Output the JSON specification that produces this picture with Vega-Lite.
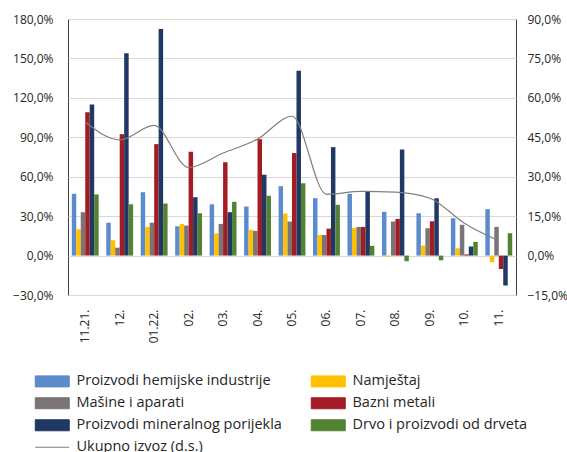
{
  "$schema": "https://vega.github.io/schema/vega-lite/v6.json",
  "width": 448,
  "height": 276,
  "autosize": {"type": "pad"},
  "padding": {"left": 12, "top": 13, "right": 5, "bottom": 0},
  "config": {
    "view": {"stroke": "#404040", "strokeWidth": 1},
    "font": "Open Sans",
    "axis": {"labelFont": "Open Sans", "labelFontSize": 12, "labelColor": "#262626"}
  },
  "datasets": {
    "bars": [
      {"month": "11.21.", "series": "Proizvodi hemijske industrije", "value": 47},
      {"month": "11.21.", "series": "Namještaj", "value": 20},
      {"month": "11.21.", "series": "Mašine i aparati", "value": 33},
      {"month": "11.21.", "series": "Bazni metali", "value": 109},
      {"month": "11.21.", "series": "Proizvodi mineralnog porijekla", "value": 115},
      {"month": "11.21.", "series": "Drvo i proizvodi od drveta", "value": 46.5},
      {"month": "12.", "series": "Proizvodi hemijske industrije", "value": 25},
      {"month": "12.", "series": "Namještaj", "value": 11.7},
      {"month": "12.", "series": "Mašine i aparati", "value": 6},
      {"month": "12.", "series": "Bazni metali", "value": 92.4},
      {"month": "12.", "series": "Proizvodi mineralnog porijekla", "value": 154},
      {"month": "12.", "series": "Drvo i proizvodi od drveta", "value": 39},
      {"month": "01.22.", "series": "Proizvodi hemijske industrije", "value": 48.2},
      {"month": "01.22.", "series": "Namještaj", "value": 21.8},
      {"month": "01.22.", "series": "Mašine i aparati", "value": 25},
      {"month": "01.22.", "series": "Bazni metali", "value": 84.8},
      {"month": "01.22.", "series": "Proizvodi mineralnog porijekla", "value": 172.4},
      {"month": "01.22.", "series": "Drvo i proizvodi od drveta", "value": 39.6},
      {"month": "02.", "series": "Proizvodi hemijske industrije", "value": 22.3},
      {"month": "02.", "series": "Namještaj", "value": 24.1},
      {"month": "02.", "series": "Mašine i aparati", "value": 22.8},
      {"month": "02.", "series": "Bazni metali", "value": 79},
      {"month": "02.", "series": "Proizvodi mineralnog porijekla", "value": 44.4},
      {"month": "02.", "series": "Drvo i proizvodi od drveta", "value": 32.2},
      {"month": "03.", "series": "Proizvodi hemijske industrije", "value": 39},
      {"month": "03.", "series": "Namještaj", "value": 16.8},
      {"month": "03.", "series": "Mašine i aparati", "value": 24.1},
      {"month": "03.", "series": "Bazni metali", "value": 71},
      {"month": "03.", "series": "Proizvodi mineralnog porijekla", "value": 33},
      {"month": "03.", "series": "Drvo i proizvodi od drveta", "value": 40.9},
      {"month": "04.", "series": "Proizvodi hemijske industrije", "value": 37.3},
      {"month": "04.", "series": "Namještaj", "value": 19.6},
      {"month": "04.", "series": "Mašine i aparati", "value": 18.8},
      {"month": "04.", "series": "Bazni metali", "value": 88.6},
      {"month": "04.", "series": "Proizvodi mineralnog porijekla", "value": 61.5},
      {"month": "04.", "series": "Drvo i proizvodi od drveta", "value": 45.5},
      {"month": "05.", "series": "Proizvodi hemijske industrije", "value": 52.8},
      {"month": "05.", "series": "Namještaj", "value": 32},
      {"month": "05.", "series": "Mašine i aparati", "value": 25.9},
      {"month": "05.", "series": "Bazni metali", "value": 78},
      {"month": "05.", "series": "Proizvodi mineralnog porijekla", "value": 140.7},
      {"month": "05.", "series": "Drvo i proizvodi od drveta", "value": 55},
      {"month": "06.", "series": "Proizvodi hemijske industrije", "value": 43.7},
      {"month": "06.", "series": "Namještaj", "value": 15.7},
      {"month": "06.", "series": "Mašine i aparati", "value": 15.7},
      {"month": "06.", "series": "Bazni metali", "value": 20.5},
      {"month": "06.", "series": "Proizvodi mineralnog porijekla", "value": 82.5},
      {"month": "06.", "series": "Drvo i proizvodi od drveta", "value": 38.6},
      {"month": "07.", "series": "Proizvodi hemijske industrije", "value": 47},
      {"month": "07.", "series": "Namještaj", "value": 21},
      {"month": "07.", "series": "Mašine i aparati", "value": 21.8},
      {"month": "07.", "series": "Bazni metali", "value": 21.8},
      {"month": "07.", "series": "Proizvodi mineralnog porijekla", "value": 49.2},
      {"month": "07.", "series": "Drvo i proizvodi od drveta", "value": 7.4},
      {"month": "08.", "series": "Proizvodi hemijske industrije", "value": 33.3},
      {"month": "08.", "series": "Namještaj", "value": -0.8},
      {"month": "08.", "series": "Mašine i aparati", "value": 25.9},
      {"month": "08.", "series": "Bazni metali", "value": 27.9},
      {"month": "08.", "series": "Proizvodi mineralnog porijekla", "value": 80.7},
      {"month": "08.", "series": "Drvo i proizvodi od drveta", "value": -4.3},
      {"month": "09.", "series": "Proizvodi hemijske industrije", "value": 32.2},
      {"month": "09.", "series": "Namještaj", "value": 7.6},
      {"month": "09.", "series": "Mašine i aparati", "value": 20.8},
      {"month": "09.", "series": "Bazni metali", "value": 26.1},
      {"month": "09.", "series": "Proizvodi mineralnog porijekla", "value": 43.6},
      {"month": "09.", "series": "Drvo i proizvodi od drveta", "value": -3.6},
      {"month": "10.", "series": "Proizvodi hemijske industrije", "value": 28.4},
      {"month": "10.", "series": "Namještaj", "value": 5.6},
      {"month": "10.", "series": "Mašine i aparati", "value": 23.4},
      {"month": "10.", "series": "Bazni metali", "value": 0.9},
      {"month": "10.", "series": "Proizvodi mineralnog porijekla", "value": 6.9},
      {"month": "10.", "series": "Drvo i proizvodi od drveta", "value": 10.4},
      {"month": "11.", "series": "Proizvodi hemijske industrije", "value": 35.3},
      {"month": "11.", "series": "Namještaj", "value": -5.1},
      {"month": "11.", "series": "Mašine i aparati", "value": 21.8},
      {"month": "11.", "series": "Bazni metali", "value": -10.2},
      {"month": "11.", "series": "Proizvodi mineralnog porijekla", "value": -22.8},
      {"month": "11.", "series": "Drvo i proizvodi od drveta", "value": 17}
    ],
    "line": [
      {"month": "11.21.", "total": 50.8},
      {"month": "12.", "total": 44},
      {"month": "01.22.", "total": 49.5},
      {"month": "02.", "total": 33.5},
      {"month": "03.", "total": 39},
      {"month": "04.", "total": 44.3},
      {"month": "05.", "total": 53},
      {"month": "06.", "total": 23.3},
      {"month": "07.", "total": 24.4},
      {"month": "08.", "total": 24.1},
      {"month": "09.", "total": 21.8},
      {"month": "10.", "total": 12.3},
      {"month": "11.", "total": 5.6}
    ]
  },
  "layer": [
    {
      "data": {"name": "bars"},
      "mark": {"type": "bar"},
      "encoding": {
        "x": {
          "field": "month", "type": "nominal",
          "scale": {"domain": ["11.21.", "12.", "01.22.", "02.", "03.", "04.", "05.", "06.", "07.", "08.", "09.", "10.", "11."], "paddingInner": 0.22, "paddingOuter": 0.11},
          "axis": {"title": null, "labelAngle": -90, "ticks": false, "domain": false, "labelPadding": 14}
        },
        "xOffset": {
          "field": "series", "type": "nominal",
          "scale": {"domain": ["Proizvodi hemijske industrije", "Namještaj", "Mašine i aparati", "Bazni metali", "Proizvodi mineralnog porijekla", "Drvo i proizvodi od drveta"]}
        },
        "y": {
          "field": "value", "type": "quantitative",
          "scale": {"domain": [-30, 180], "nice": false},
          "axis": {"title": null, "values": [-30, 0, 30, 60, 90, 120, 150, 180], "labelExpr": "replace(format(datum.value, '.1f'), '.', ',') + '%'", "grid": true, "gridColor": "#d9d9d9", "ticks": false, "domain": false, "labelPadding": 15}
        },
        "color": {
          "field": "series", "type": "nominal",
          "scale": {
            "domain": ["Proizvodi hemijske industrije", "Namještaj", "Mašine i aparati", "Bazni metali", "Proizvodi mineralnog porijekla", "Drvo i proizvodi od drveta", "Ukupno izvoz (d.s.)"],
            "range": ["#5b8bcb", "#ffc000", "#7a7574", "#a31c24", "#1f3864", "#548235", "#7f7f7f"]
          },
          "legend": {
            "title": null,
            "orient": "none",
            "direction": "horizontal",
            "legendX": -23,
            "legendY": 355,
            "columns": 2,
            "columnPadding": 27,
            "rowPadding": 6,
            "symbolType": "M-3.4,-1.1H3.4V1.1H-3.4Z",
            "symbolSize": 100,
            "labelFont": "Open Sans",
            "labelFontSize": 14.5,
            "labelColor": "#262626",
            "labelOffset": 17,
            "labelLimit": 400,
            "encode": {
              "symbols": {
                "update": {
                  "shape": {"signal": "datum.value === 'Ukupno izvoz (d.s.)' ? 'M-3.4,0H3.4' : 'M-3.4,-1.1H3.4V1.1H-3.4Z'"},
                  "fill": {"signal": "datum.value === 'Ukupno izvoz (d.s.)' ? 'transparent' : scale('color', datum.value)"},
                  "stroke": {"signal": "datum.value === 'Ukupno izvoz (d.s.)' ? '#7f7f7f' : 'transparent'"},
                  "strokeWidth": {"value": 1},
                  "opacity": {"value": 1}
                }
              }
            }
          }
        }
      }
    },
    {
      "data": {"name": "line"},
      "mark": {"type": "line", "interpolate": "monotone", "strokeWidth": 1.2},
      "encoding": {
        "x": {"field": "month", "type": "nominal"},
        "y": {
          "field": "total", "type": "quantitative",
          "scale": {"domain": [-15, 90], "nice": false},
          "axis": {"title": null, "orient": "right", "values": [-15, 0, 15, 30, 45, 60, 75, 90], "labelExpr": "replace(format(datum.value, '.1f'), '.', ',') + '%'", "grid": false, "ticks": false, "domain": false, "labelPadding": 11}
        },
        "color": {"datum": "Ukupno izvoz (d.s.)"}
      }
    }
  ],
  "resolve": {"scale": {"y": "independent"}}
}
